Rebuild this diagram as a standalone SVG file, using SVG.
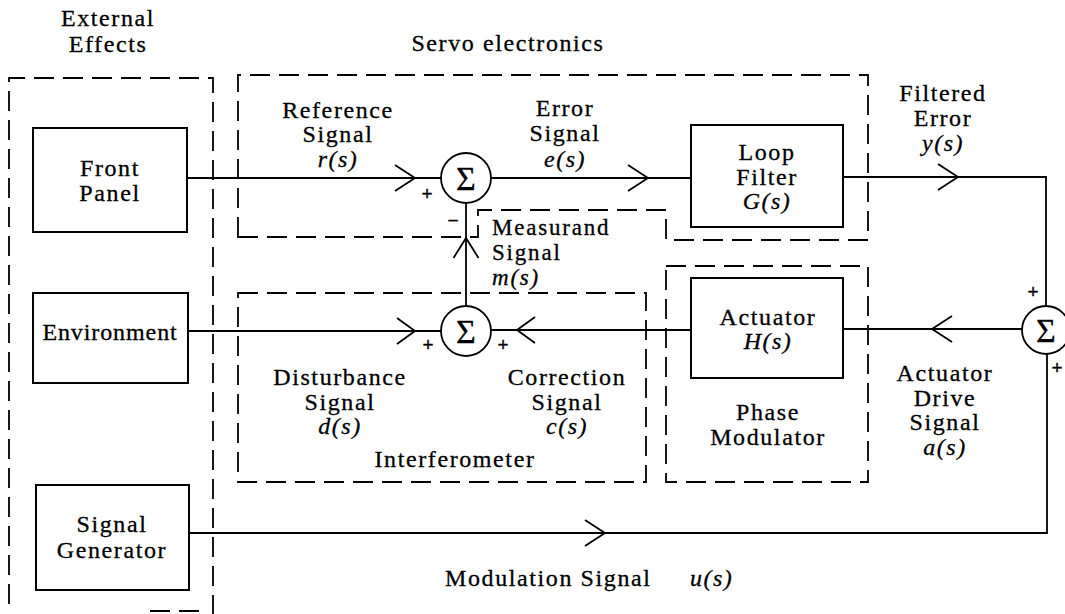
<svg xmlns="http://www.w3.org/2000/svg" width="1065" height="614" viewBox="0 0 1065 614">
<style>
text{font-family:"Liberation Serif","DejaVu Serif",serif;font-size:24px;fill:#000;stroke:#000;stroke-width:0.3;text-anchor:middle;letter-spacing:1.6px}
.it{font-style:italic;font-size:24px;letter-spacing:1.5px}
.lft{text-anchor:start}
.ms{font-size:23px;letter-spacing:1.8px}
.sig{font-size:34px;letter-spacing:0}
.pm{font-family:"Liberation Sans","DejaVu Sans",sans-serif;font-size:19px;letter-spacing:0}
.box{fill:none;stroke:#000;stroke-width:2}
.dash{fill:none;stroke:#000;stroke-width:1.8;stroke-dasharray:20 9}
.ln{fill:none;stroke:#000;stroke-width:1.8}
.sum{fill:#fff;stroke:#000;stroke-width:1.8}
</style>

<g id="group-external">
<path class="dash" d="M9,604 V78 H213 V614"/>
<path class="dash" d="M150,611 H205"/>
<text x="108" y="26">External</text>
<text x="108" y="52">Effects</text>
</g>

<g id="group-servo">
<path class="dash" d="M238,237 H478 V210 H666 V240 H868 V75 H238 Z"/>
<text x="508" y="51">Servo electronics</text>
</g>

<g id="group-interferometer">
<rect class="dash" x="238" y="293" width="408" height="189"/>
<text x="455" y="467">Interferometer</text>
</g>

<g id="group-phase-modulator">
<rect class="dash" x="666" y="266" width="202" height="216"/>
<text x="768" y="420">Phase</text>
<text x="768" y="445">Modulator</text>
</g>

<g id="connectors">
<path class="ln" d="M187,178 H441"/>
<path class="ln" d="M395,165 L415,178 L395,191"/>
<path class="ln" d="M491,178 H691"/>
<path class="ln" d="M628,165 L648,178 L628,191"/>
<path class="ln" d="M843,177 H1046 V306"/>
<path class="ln" d="M938,164 L958,177 L938,190"/>
<path class="ln" d="M1022,329 H843"/>
<path class="ln" d="M952,316 L932,329 L952,342"/>
<path class="ln" d="M691,330 H491"/>
<path class="ln" d="M535,317 L517,330 L535,343"/>
<path class="ln" d="M188,331 H441"/>
<path class="ln" d="M397,318 L415,331 L397,344"/>
<path class="ln" d="M466,306 V203"/>
<path class="ln" d="M453.5,258 L466,238 L478.5,258"/>
<path class="ln" d="M189,533 H1047 V353"/>
<path class="ln" d="M585,520 L605,533 L585,546"/>
</g>

<g id="node-front-panel">
<rect class="box" x="33" y="128" width="154" height="104"/>
<text x="110" y="176">Front</text>
<text x="110" y="201">Panel</text>
</g>

<g id="node-environment">
<rect class="box" x="33" y="293" width="155" height="90"/>
<text x="110" y="340" style="letter-spacing:0.9px">Environment</text>
</g>

<g id="node-signal-generator">
<rect class="box" x="36" y="485" width="153" height="105"/>
<text x="112" y="532">Signal</text>
<text x="112" y="558">Generator</text>
</g>

<g id="node-sum-upper">
<circle class="sum" cx="466" cy="178" r="25"/>
<text class="sig" x="466" y="190">Σ</text>
<text class="pm" x="427" y="200">+</text>
<text class="pm" x="453" y="227">−</text>
</g>

<g id="node-sum-lower">
<circle class="sum" cx="466" cy="331" r="25"/>
<text class="sig" x="466" y="343">Σ</text>
<text class="pm" x="428" y="351">+</text>
<text class="pm" x="503" y="351">+</text>
</g>

<g id="node-sum-right">
<circle class="sum" cx="1046" cy="330" r="24"/>
<text class="sig" x="1046" y="342">Σ</text>
<text class="pm" x="1033" y="298">+</text>
<text class="pm" x="1057" y="374">+</text>
</g>

<g id="node-loop-filter">
<rect class="box" x="691" y="125" width="152" height="102"/>
<text x="767" y="160">Loop</text>
<text x="767" y="185">Filter</text>
<text class="it" x="767" y="209">G(s)</text>
</g>

<g id="node-actuator">
<rect class="box" x="691" y="278" width="152" height="100"/>
<text x="768" y="325">Actuator</text>
<text class="it" x="768" y="349">H(s)</text>
</g>

<g id="labels">
<text x="338" y="118">Reference</text>
<text x="338" y="142">Signal</text>
<text class="it" x="338" y="167">r(s)</text>
<text x="565" y="116">Error</text>
<text x="565" y="141">Signal</text>
<text class="it" x="565" y="167">e(s)</text>
<text x="943" y="101">Filtered</text>
<text x="943" y="126">Error</text>
<text class="it" x="943" y="151">y(s)</text>
<text class="lft ms" x="492" y="235">Measurand</text>
<text class="lft ms" x="492" y="260">Signal</text>
<text class="it lft ms" x="492" y="285">m(s)</text>
<text x="340" y="385">Disturbance</text>
<text x="340" y="410">Signal</text>
<text class="it" x="340" y="434">d(s)</text>
<text x="567" y="385">Correction</text>
<text x="567" y="410">Signal</text>
<text class="it" x="567" y="434">c(s)</text>
<text x="945" y="381">Actuator</text>
<text x="945" y="406">Drive</text>
<text x="945" y="430">Signal</text>
<text class="it" x="945" y="455">a(s)</text>
<text class="lft" x="445" y="586">Modulation Signal</text>
<text class="it lft" x="690" y="586">u(s)</text>
</g>
</svg>
